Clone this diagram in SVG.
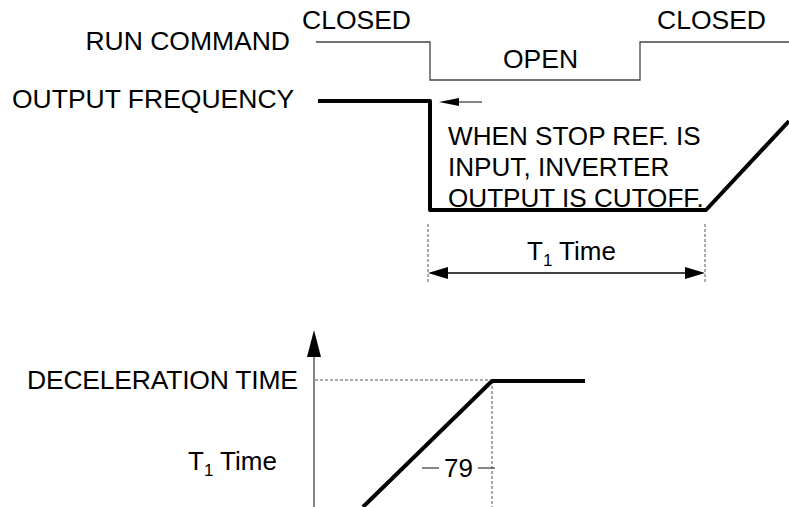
<svg xmlns="http://www.w3.org/2000/svg" width="789" height="507" viewBox="0 0 789 507">
<style>
text{font-family:"Liberation Sans",Arial,sans-serif;font-size:26.5px;fill:#000}
.t1{font-size:26px}
.note{font-size:26.1px}
.thin{fill:none;stroke:#444;stroke-width:1.3}
.thick{fill:none;stroke:#000;stroke-width:4;stroke-linejoin:round}
.dash{fill:none;stroke:#555;stroke-width:1;stroke-dasharray:3,2}
.head{fill:#000;stroke:none}
.sub{font-size:17px}
</style>
<rect width="789" height="507" fill="#fff"/>
<g id="labels">
<text id="closed1" x="302" y="29">CLOSED</text>
<text id="closed2" x="657" y="29">CLOSED</text>
<text id="run" x="290" y="50" text-anchor="end">RUN COMMAND</text>
<text id="open" x="503" y="68">OPEN</text>
<text id="outfreq" x="12" y="108">OUTPUT FREQUENCY</text>
<text id="note" class="note" x="448" y="145">WHEN STOP REF. IS<tspan x="448" y="176">INPUT, INVERTER</tspan><tspan x="448" y="207">OUTPUT IS CUTOFF.</tspan></text>
<text id="t1top" class="t1" x="527" y="260">T<tspan class="sub" dy="6">1</tspan><tspan dy="-6"> Time</tspan></text>
<text id="decel" x="27" y="389" textLength="271">DECELERATION TIME</text>
<text id="t1bot" class="t1" x="188" y="470">T<tspan class="sub" dy="6">1</tspan><tspan dy="-6"> Time</tspan></text>
<text id="n79" class="t1" x="444" y="477">79</text>
</g>
<g id="connectors">
<polyline class="thin" points="316,42 430,42 430,80 640,80 640,42 789,42"/>
<polyline class="thick" points="318,101 430,101 430,210 706,210 789,121"/>
<line class="thin" x1="455" y1="102" x2="482" y2="102"/>
<polygon class="head" points="439,102 459,98 459,106"/>
<line class="dash" x1="428" y1="224" x2="428" y2="284"/>
<line class="dash" x1="705" y1="224" x2="705" y2="284"/>
<line stroke="#000" stroke-width="1.3" x1="445" y1="273" x2="688" y2="273"/>
<polygon class="head" points="428,273 448,267 448,279"/>
<polygon class="head" points="705,273 685,267 685,279"/>
<line class="thin" x1="314" y1="355" x2="314" y2="507"/>
<polygon class="head" points="314,330 307,357 321,357"/>
<line class="dash" x1="315" y1="380" x2="491" y2="380"/>
<line class="dash" x1="492" y1="381" x2="492" y2="507"/>
<polyline class="thick" points="363,507 492,381 585,381"/>
<line class="thin" x1="422" y1="468" x2="439" y2="468"/>
<line class="thin" x1="478" y1="468" x2="495" y2="468"/>
</g>
</svg>
